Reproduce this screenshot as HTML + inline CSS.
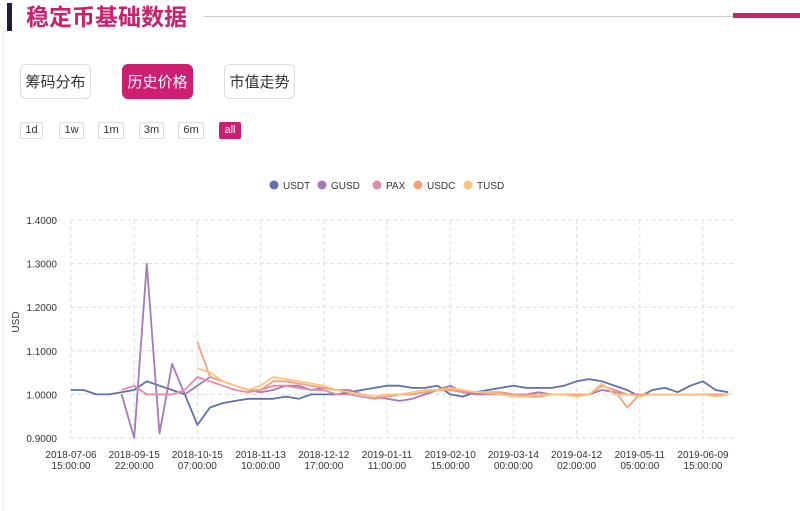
<!DOCTYPE html>
<html><head><meta charset="utf-8"><style>
body{margin:0;width:800px;height:511px;background:#fff;font-family:"Liberation Sans","Noto Sans CJK SC",sans-serif;position:relative;overflow:hidden}
.abs{position:absolute}
.tab{position:absolute;top:64px;width:71px;height:35px;border:1px solid #ddd;border-radius:6px;font-size:15px;line-height:35px;text-align:center;color:#333;background:#fff;box-sizing:border-box}
.tab.on{background:#cc1f72;color:#fff;border-color:#cc1f72}
.rb{position:absolute;top:122px;height:17px;border:1px solid #ddd;border-radius:2px;font-size:11px;line-height:15px;text-align:center;color:#333;box-sizing:border-box}
.rb.on{background:#cc1f72;color:#fff;border-color:#cc1f72}
</style></head><body>
<div class="abs" style="left:3px;top:30px;width:1px;height:481px;background:#eee"></div>
<div class="abs" style="left:7px;top:3px;width:5px;height:28px;background:#1f1f3a"></div>
<div class="abs" style="left:26px;top:2px;font-size:23px;font-weight:bold;color:#c8216e;line-height:30px">稳定币基础数据</div>
<div class="abs" style="left:204px;top:16px;width:596px;height:1px;background:#ccc"></div>
<div class="abs" style="left:733px;top:13px;width:67px;height:5px;background:#c8216e"></div>
<div class="tab" style="left:20px">筹码分布</div>
<div class="tab on" style="left:122px">历史价格</div>
<div class="tab" style="left:224px">市值走势</div>
<div class="rb" style="left:20px;width:23px">1d</div>
<div class="rb" style="left:59px;width:25px">1w</div>
<div class="rb" style="left:98px;width:26px">1m</div>
<div class="rb" style="left:139px;width:25px">3m</div>
<div class="rb" style="left:178px;width:26px">6m</div>
<div class="rb on" style="left:219px;width:22px">all</div>
<svg id="chart" class="abs" style="left:0;top:0" width="800" height="511"></svg>
<script>
const categories=['2018-07-06\n15:00:00','2018-09-15\n22:00:00','2018-10-15\n07:00:00','2018-11-13\n10:00:00','2018-12-12\n17:00:00','2019-01-11\n11:00:00','2019-02-10\n15:00:00','2019-03-14\n00:00:00','2019-04-12\n02:00:00','2019-05-11\n05:00:00','2019-06-09\n15:00:00'];
const yTicks=[0.9,1.0,1.1,1.2,1.3,1.4];
const seriesNames=['USDT','GUSD','PAX','USDC','TUSD'];
const seriesColors=['#5f6fa8','#a479ba','#e28aa9','#f4a07f','#f9c57a'];
const usdt=[1.01,1.01,1.0,1.0,1.005,1.01,1.03,1.02,1.01,1.0,0.93,0.97,0.98,0.985,0.99,0.99,0.99,0.995,0.99,1.0,1.0,1.0,1.005,1.01,1.015,1.02,1.02,1.015,1.015,1.02,1.0,0.995,1.005,1.01,1.015,1.02,1.015,1.015,1.015,1.02,1.03,1.035,1.03,1.02,1.01,0.995,1.01,1.015,1.005,1.02,1.03,1.01,1.005];
const gusd=[null,null,null,null,1.0,0.9,1.3,0.91,1.07,1.0,1.02,1.04,1.03,1.02,1.01,1.005,1.01,1.02,1.02,1.01,1.015,1.01,1.01,1.0,0.995,0.99,0.985,0.99,1.0,1.01,1.02,1.005,1.0,1.0,1.005,1.0,1.0,1.005,1.0,1.0,0.995,1.0,1.01,1.005,1.0,1.0,1.0,1.0,1.0,1.0,1.0,1.0,1.0];
const pax=[null,null,null,null,1.01,1.02,1.0,1.0,1.0,1.01,1.04,1.03,1.02,1.01,1.005,1.01,1.02,1.02,1.015,1.01,1.01,1.0,1.0,0.995,0.99,0.995,1.0,1.0,1.005,1.01,1.01,1.005,1.005,1.0,1.0,1.0,1.0,1.0,1.0,1.0,1.0,1.0,1.02,1.01,1.0,1.0,1.0,1.0,1.0,1.0,1.0,1.0,1.0];
const usdc=[null,null,null,null,null,null,null,null,null,null,1.12,1.04,1.03,1.02,1.01,1.01,1.03,1.03,1.025,1.02,1.015,1.01,1.005,1.0,0.995,0.995,1.0,1.0,1.005,1.01,1.01,1.01,1.005,1.005,1.005,1.0,0.995,0.995,1.0,1.0,1.0,1.0,1.02,1.01,0.97,1.0,1.0,1.0,1.0,1.0,1.0,1.0,1.0];
const tusd=[null,null,null,null,null,null,null,null,null,null,1.06,1.05,1.03,1.02,1.01,1.02,1.04,1.035,1.03,1.025,1.02,1.01,1.005,1.0,0.995,1.0,1.0,1.005,1.01,1.01,1.015,1.01,1.005,1.005,1.0,0.995,0.995,1.0,1.0,1.0,0.995,1.0,1.025,1.0,1.0,0.995,1.0,1.0,1.0,1.0,1.0,0.995,1.0];
const allSeries=[usdt,gusd,pax,usdc,tusd];
const svg=document.getElementById('chart');const NS='http://www.w3.org/2000/svg';
const X0=71,X1=733,Y0=438,Y1=220,STEP=63.2;
function xPos(i){return X0+i*STEP/5;}
function yPos(v){return Y0-(v-0.9)/0.5*(Y0-Y1);}
function mk(t,a,txt){const e=document.createElementNS(NS,t);for(const k in a)e.setAttribute(k,a[k]);if(txt!=null)e.textContent=txt;svg.appendChild(e);return e;}
yTicks.forEach(v=>{const y=yPos(v);
const g=mk('line',{x1:X0,x2:X1,y1:y,y2:y,stroke:'#ddd','stroke-dasharray':'4,3'});


const t=mk('text',{x:57,y:y+4,'text-anchor':'end','font-size':10,fill:'#333'},v.toFixed(4));

});
categories.forEach((c,i)=>{const x=X0+i*STEP;
const g=mk('line',{x1:x,x2:x,y1:Y1,y2:Y0,stroke:'#ddd','stroke-dasharray':'4,3'});


const p=c.split('\n');
const t1=mk('text',{x:x,y:458,'text-anchor':'middle','font-size':10,fill:'#333'},p[0]);


const t2=mk('text',{x:x,y:469,'text-anchor':'middle','font-size':10,fill:'#333'},p[1]);

});
const yt=mk('text',{x:0,y:0,'font-size':10,fill:'#333','text-anchor':'middle',transform:'translate(19,322) rotate(-90)'},'USD');


allSeries.forEach((s,k)=>{let d='',pen=false;s.forEach((v,i)=>{if(v==null){pen=false;return;}d+=(pen?'L':'M')+xPos(i).toFixed(1)+','+yPos(v).toFixed(1);pen=true;});
const p=mk('path',{d:d,fill:'none',stroke:seriesColors[k],'stroke-width':1.8,'stroke-linejoin':'round'});

});
const lx=[274,322,377,418,468];
seriesNames.forEach((n,k)=>{const c=mk('circle',{cx:lx[k],cy:185,r:4.5,fill:seriesColors[k]});


const t=mk('text',{x:lx[k]+9,y:189,'font-size':10,fill:'#333'},n);

});
</script>
</body></html>
